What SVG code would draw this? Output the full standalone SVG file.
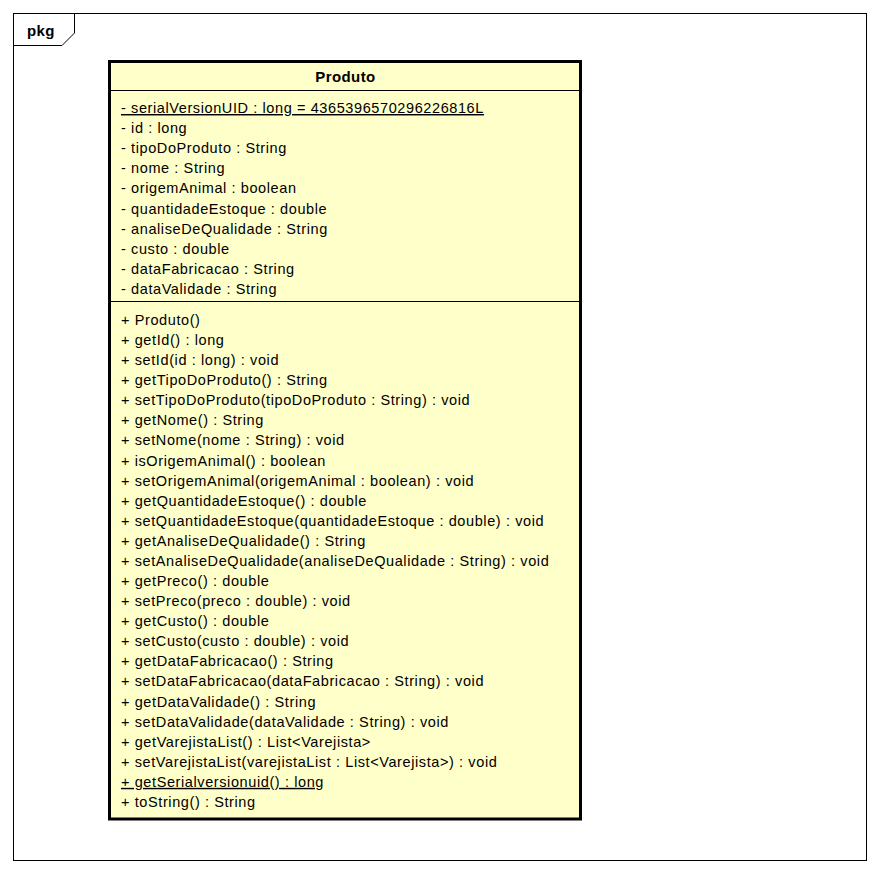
<svg xmlns="http://www.w3.org/2000/svg" width="880" height="873" viewBox="0 0 880 873">
<style>
text{font-family:"Liberation Sans",Arial,sans-serif;font-size:14.5px;letter-spacing:0.6px;fill:#000}
.b{font-weight:bold;font-size:15px;letter-spacing:0.4px}
.u{text-decoration:underline}
.ln{stroke:#000;stroke-width:1;fill:none}
</style>
<rect width="880" height="873" fill="#fff"/>
<g id="pkg">
<rect x="13.5" y="13.5" width="853" height="847" class="ln"/>
<path d="M13.5 45.5 H62 L74.5 33 V13.5" class="ln"/>
<text x="27" y="36" class="b">pkg</text>
</g>
<g id="Produto">
<rect x="109.5" y="61.5" width="471" height="757.5" fill="#FFFFCA" stroke="#000" stroke-width="3"/>
<line x1="109" y1="90.5" x2="581" y2="90.5" class="ln"/>
<line x1="109" y1="301.5" x2="581" y2="301.5" class="ln"/>
<text x="345.5" y="82" text-anchor="middle" class="b">Produto</text>
<g>
<text x="121" y="113" class="u">- serialVersionUID : long = 4365396570296226816L</text>
<text x="121" y="133.1">- id : long</text>
<text x="121" y="153.2">- tipoDoProduto : String</text>
<text x="121" y="173.3">- nome : String</text>
<text x="121" y="193.4">- origemAnimal : boolean</text>
<text x="121" y="213.5">- quantidadeEstoque : double</text>
<text x="121" y="233.6">- analiseDeQualidade : String</text>
<text x="121" y="253.7">- custo : double</text>
<text x="121" y="273.8">- dataFabricacao : String</text>
<text x="121" y="293.9">- dataValidade : String</text>
</g>
<g>
<text x="121" y="325">+ Produto()</text>
<text x="121" y="345.08">+ getId() : long</text>
<text x="121" y="365.16">+ setId(id : long) : void</text>
<text x="121" y="385.24">+ getTipoDoProduto() : String</text>
<text x="121" y="405.32">+ setTipoDoProduto(tipoDoProduto : String) : void</text>
<text x="121" y="425.4">+ getNome() : String</text>
<text x="121" y="445.48">+ setNome(nome : String) : void</text>
<text x="121" y="465.56">+ isOrigemAnimal() : boolean</text>
<text x="121" y="485.64">+ setOrigemAnimal(origemAnimal : boolean) : void</text>
<text x="121" y="505.72">+ getQuantidadeEstoque() : double</text>
<text x="121" y="525.8">+ setQuantidadeEstoque(quantidadeEstoque : double) : void</text>
<text x="121" y="545.88">+ getAnaliseDeQualidade() : String</text>
<text x="121" y="565.96">+ setAnaliseDeQualidade(analiseDeQualidade : String) : void</text>
<text x="121" y="586.04">+ getPreco() : double</text>
<text x="121" y="606.12">+ setPreco(preco : double) : void</text>
<text x="121" y="626.2">+ getCusto() : double</text>
<text x="121" y="646.28">+ setCusto(custo : double) : void</text>
<text x="121" y="666.36">+ getDataFabricacao() : String</text>
<text x="121" y="686.44">+ setDataFabricacao(dataFabricacao : String) : void</text>
<text x="121" y="706.52">+ getDataValidade() : String</text>
<text x="121" y="726.6">+ setDataValidade(dataValidade : String) : void</text>
<text x="121" y="746.68">+ getVarejistaList() : List&lt;Varejista&gt;</text>
<text x="121" y="766.76">+ setVarejistaList(varejistaList : List&lt;Varejista&gt;) : void</text>
<text x="121" y="786.84" class="u">+ getSerialversionuid() : long</text>
<text x="121" y="806.92">+ toString() : String</text>
</g>
</g>
</svg>
